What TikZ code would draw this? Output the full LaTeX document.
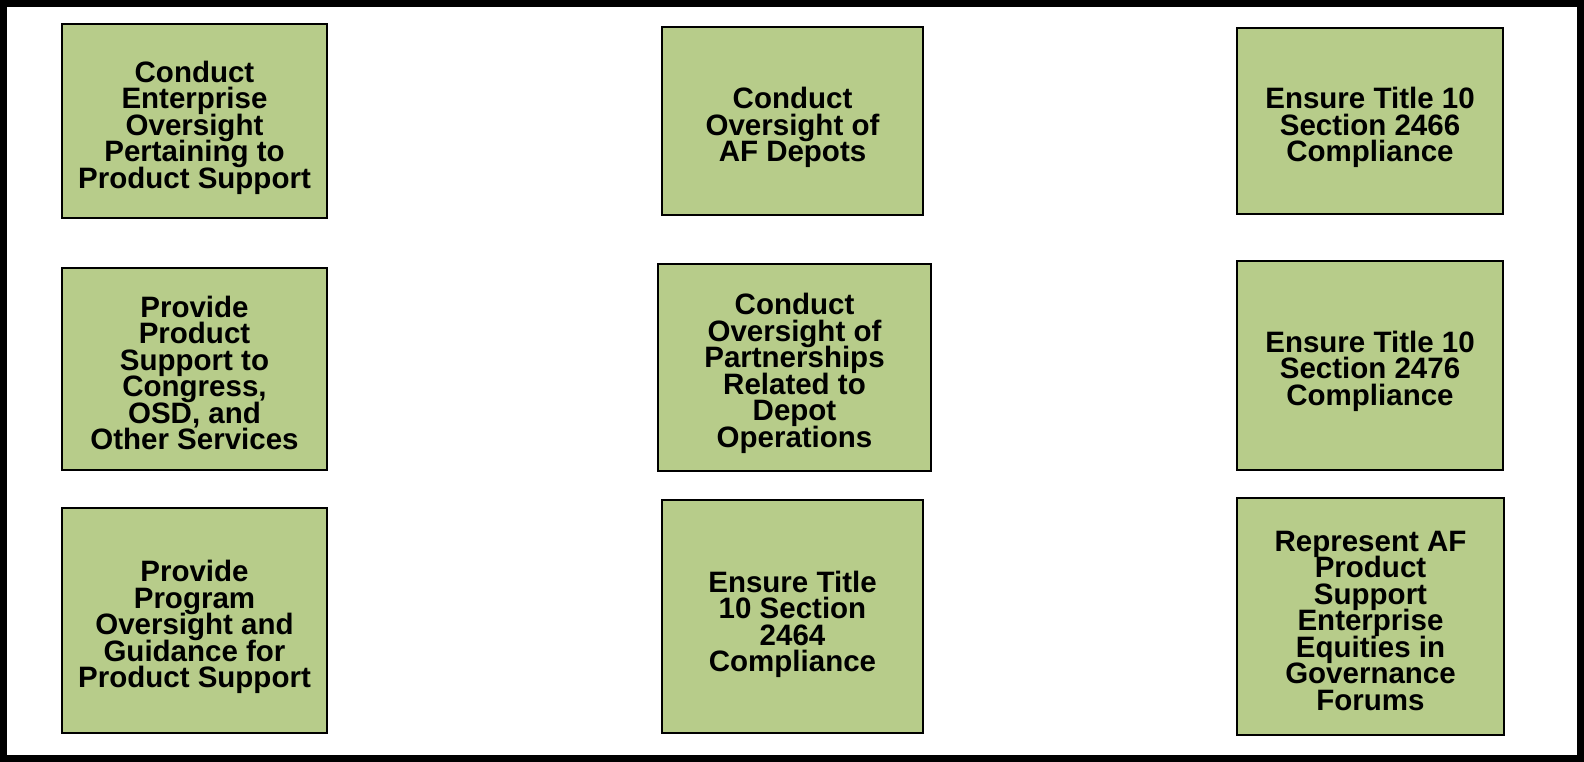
\documentclass[tikz,border=0pt]{standalone}
\usepackage{fontspec}
\setmainfont{Liberation Sans}
\definecolor{boxgreen}{RGB}{183,204,138}
\newcommand\firstln[1][35pt]{\rule{0pt}{#1}\ignorespaces}
\newcommand\boxfont{\fontsize{29.5}{26.5}\selectfont\bfseries\lineskiplimit=-20pt\relax\lineskip=0pt\relax}
\begin{document}
\begin{tikzpicture}[x=1pt,y=-1pt,
  box/.style={draw=black, line width=2.5pt, fill=boxgreen, inner sep=0pt, align=center,
    font=\boxfont},
  frame/.style={draw=black, line width=7pt}]
\useasboundingbox (0,0) rectangle (1584,762);
\draw[frame] (3.5,3.5) rectangle (1580.5,758.5);
\node[box, minimum width=265pt, minimum height=194pt] (a1) at (194.5,121) {\firstln Conduct\\Enterprise\\Oversight\\Pertaining to\\Product Support};
\node[box, minimum width=265pt, minimum height=202pt] (a2) at (194.5,369) {\firstln[29pt]Provide\\Product\\Support to\\Congress,\\OSD, and\\Other Services};
\node[box, minimum width=265pt, minimum height=225pt] (a3) at (194.5,620.5) {\firstln Provide\\Program\\Oversight and\\Guidance for\\Product Support};
\node[box, minimum width=261pt, minimum height=188pt] (b1) at (792.5,121) {\firstln Conduct\\Oversight of\\AF Depots};
\node[box, minimum width=273pt, minimum height=207pt] (b2) at (794.5,367.5) {\firstln[33pt]Conduct\\Oversight of\\Partnerships\\Related to\\Depot\\Operations};
\node[box, minimum width=261pt, minimum height=233pt] (b3) at (792.5,616.5) {\firstln[37pt]Ensure Title\\10 Section\\2464\\Compliance};
\node[box, minimum width=266pt, minimum height=186pt] (c1) at (1370,121) {\firstln Ensure Title 10\\Section 2466\\Compliance};
\node[box, minimum width=266pt, minimum height=209pt] (c2) at (1370,365.5) {\firstln[33pt]Ensure Title 10\\Section 2476\\Compliance};
\node[box, minimum width=267pt, minimum height=237pt] (c3) at (1370.5,616.5) {\firstln[29pt]Represent AF\\Product\\Support\\Enterprise\\Equities in\\Governance\\Forums};
\end{tikzpicture}
\end{document}
